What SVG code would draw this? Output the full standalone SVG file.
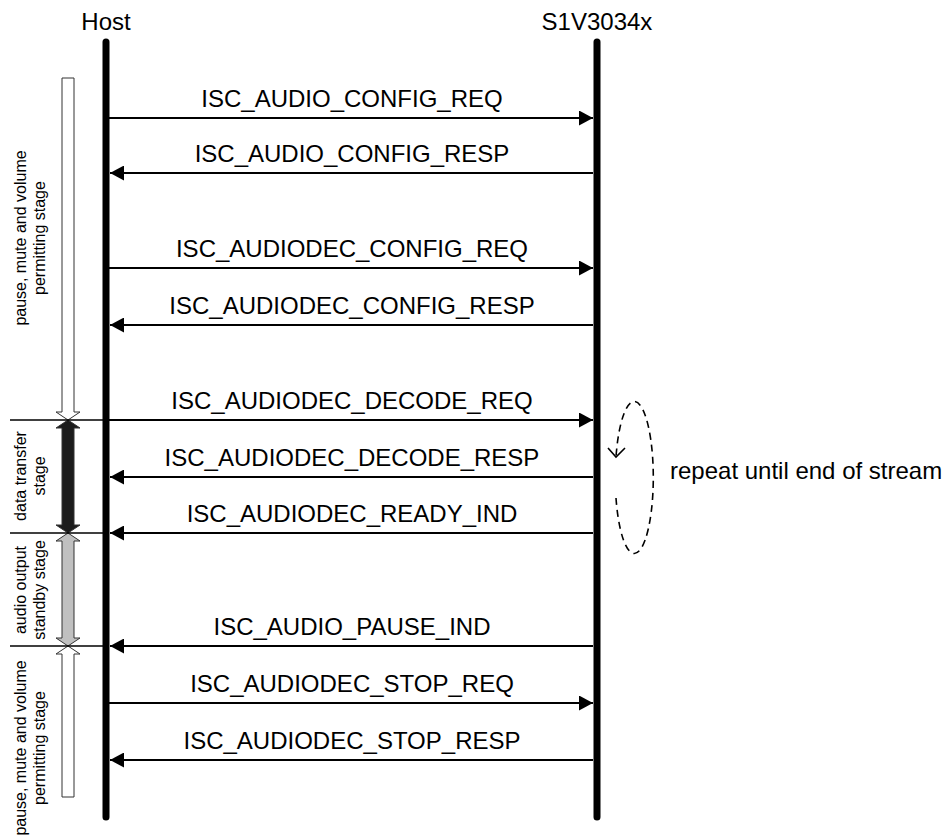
<svg xmlns="http://www.w3.org/2000/svg" width="946" height="838" viewBox="0 0 946 838">
<style>
text{font-family:"Liberation Sans",Arial,sans-serif;fill:#000}
.lbl{font-size:24px;text-anchor:middle}
.st{font-size:16px;text-anchor:middle}
.life{stroke:#000;stroke-width:7;stroke-linecap:round;fill:none}
.msg{stroke:#000;stroke-width:1.8;fill:none;marker-end:url(#ah)}
.div{stroke:#000;stroke-width:1.5;fill:none}
.bar{stroke:#333;stroke-width:1}
</style>
<defs>
<marker id="ah" viewBox="0 0 14 15" refX="14" refY="7.5" markerWidth="14" markerHeight="15" markerUnits="userSpaceOnUse" orient="auto">
<path d="M0,0 L14,7.5 L0,15 z" fill="#000"/>
</marker>
</defs>
<rect width="946" height="838" fill="#fff"/>
<g id="host">
<text class="lbl" x="106" y="30">Host</text>
<line class="life" x1="106" y1="42" x2="106" y2="817"/>
</g>
<g id="s1v3034x">
<text class="lbl" x="597" y="30">S1V3034x</text>
<line class="life" x1="597" y1="42" x2="597" y2="817"/>
</g>
<g id="stages">
<g id="stage1">
<polygon class="bar" fill="#fff" points="62,78 74,78 74,412 80,412 68,420 56,412 62,412"/>
<text class="st" transform="translate(26,238) rotate(-90)">pause, mute and volume</text>
<text class="st" transform="translate(45,238) rotate(-90)">permitting stage</text>
</g>
<g id="stage2">
<polygon class="bar" fill="#1c1c1c" points="68,420 80,428 74,428 74,525 80,525 68,533 56,525 62,525 62,428 56,428"/>
<text class="st" transform="translate(26,476) rotate(-90)">data transfer</text>
<text class="st" transform="translate(45,476) rotate(-90)">stage</text>
</g>
<g id="stage3">
<polygon class="bar" fill="#c0c0c0" points="68,533 80,541 74,541 74,638 80,638 68,646 56,638 62,638 62,541 56,541"/>
<text class="st" transform="translate(26,590) rotate(-90)">audio output</text>
<text class="st" transform="translate(45,590) rotate(-90)">standby stage</text>
</g>
<g id="stage4">
<polygon class="bar" fill="#fff" points="68,646 80,654 74,654 74,797 62,797 62,654 56,654"/>
<text class="st" transform="translate(26,748) rotate(-90)">pause, mute and volume</text>
<text class="st" transform="translate(45,748) rotate(-90)">permitting stage</text>
</g>
</g>
<g id="connectors">
<line class="div" x1="10" y1="420" x2="103" y2="420"/>
<line class="div" x1="10" y1="533" x2="103" y2="533"/>
<line class="div" x1="10" y1="646" x2="103" y2="646"/>
<path class="msg" d="M109,118 H593"/>
<path class="msg" d="M593,173 H110"/>
<path class="msg" d="M109,268 H593"/>
<path class="msg" d="M593,325 H110"/>
<path class="msg" d="M109,420 H593"/>
<path class="msg" d="M593,477 H110"/>
<path class="msg" d="M593,533 H110"/>
<path class="msg" d="M593,646 H110"/>
<path class="msg" d="M109,703 H593"/>
<path class="msg" d="M593,760 H110"/>
</g>
<g id="labels">
<text class="lbl" x="352" y="107">ISC_AUDIO_CONFIG_REQ</text>
<text class="lbl" x="352" y="162">ISC_AUDIO_CONFIG_RESP</text>
<text class="lbl" x="352" y="257">ISC_AUDIODEC_CONFIG_REQ</text>
<text class="lbl" x="352" y="314">ISC_AUDIODEC_CONFIG_RESP</text>
<text class="lbl" x="352" y="409">ISC_AUDIODEC_DECODE_REQ</text>
<text class="lbl" x="352" y="466">ISC_AUDIODEC_DECODE_RESP</text>
<text class="lbl" x="352" y="522">ISC_AUDIODEC_READY_IND</text>
<text class="lbl" x="352" y="635">ISC_AUDIO_PAUSE_IND</text>
<text class="lbl" x="352" y="692">ISC_AUDIODEC_STOP_REQ</text>
<text class="lbl" x="352" y="749">ISC_AUDIODEC_STOP_RESP</text>
</g>
<g id="loop">
<path d="M616,498 A19,76 0 1 0 616,457" fill="none" stroke="#000" stroke-width="1.6" stroke-dasharray="7,5"/>
<polyline points="608,448 616,457 625,448" fill="none" stroke="#000" stroke-width="1.6"/>
<text x="670" y="479" font-size="24">repeat until end of stream</text>
</g>
</svg>
